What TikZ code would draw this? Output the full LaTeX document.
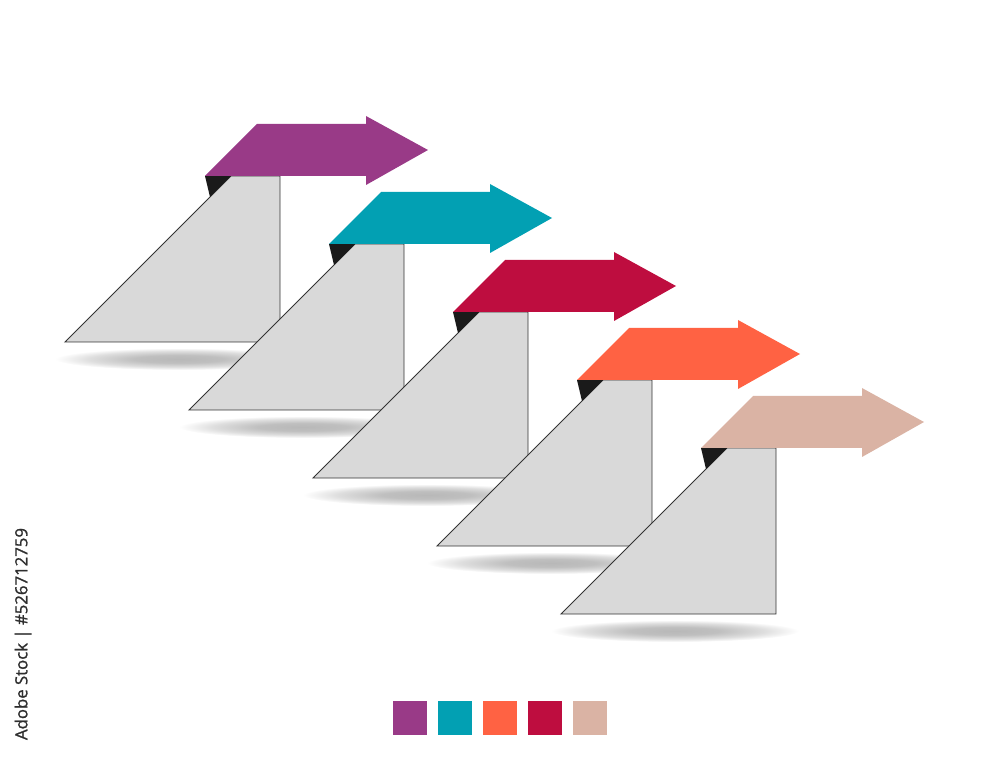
\documentclass[tikz,border=0pt]{standalone}
\usepackage{fontspec}
\newfontfamily\creditfont[FakeBold=1.2]{Open Sans}
\definecolor{stepPurple}{HTML}{993A87}
\definecolor{stepTeal}{HTML}{02A0B3}
\definecolor{stepCrimson}{HTML}{BE0D3F}
\definecolor{stepOrange}{HTML}{FF6243}
\definecolor{stepTan}{HTML}{DAB3A4}
\definecolor{stepGray}{HTML}{D9D9D9}
\definecolor{lineGray}{HTML}{333333}
\definecolor{foldBlack}{HTML}{1A1A1A}
\definecolor{creditGray}{HTML}{2E2E2E}
\pgfdeclareradialshading{shadowfade}{\pgfpoint{0bp}{0bp}}{color(0bp)=(black!28); color(9bp)=(black!25); color(18bp)=(black!13); color(25bp)=(white); color(50bp)=(white)}
\tikzset{
  stepface/.style={fill=stepGray, draw=lineGray, line width=0.75pt},
  stepfold/.style={fill=foldBlack},
  swatch/.style={minimum size=10.2mm, inner sep=0pt}
}
\begin{document}
\begin{tikzpicture}[x=0.3mm,y=-0.3mm]
\useasboundingbox (0,0) rectangle (1000,759);
% 段
\foreach \c [count=\i from 0] in {stepPurple,stepTeal,stepCrimson,stepOrange,stepTan} {
  \begin{scope}[shift={(124*\i,68*\i)}]
    % 影
    \shade[shading=shadowfade] (179,359) ellipse [x radius=124, y radius=11];
    % 三角形
    \draw[stepface] (65,342) -- (231,176) -- (280,176) -- (280,342) -- cycle;
    % 折り返し
    \fill[stepfold] (205,176) -- (231,176) -- (210,197) -- cycle;
    % 矢印
    \fill[\c] (205,176) -- (257,124) -- (366,124) -- (366,116) -- (428,150)
      -- (366,185) -- (366,176) -- cycle;
  \end{scope}
}
% 色見本
\node[swatch, fill=stepPurple] (sw1) at (410,717.5) {};
\node[swatch, fill=stepTeal] (sw2) at (455,717.5) {};
\node[swatch, fill=stepOrange] (sw3) at (500,717.5) {};
\node[swatch, fill=stepCrimson] (sw4) at (545,717.5) {};
\node[swatch, fill=stepTan] (sw5) at (590,717.5) {};
% クレジット
\node[rotate=90, text=creditGray, font=\creditfont\fontsize{14.3}{15}\selectfont] (credit) at (23,634) {Adobe Stock | \#526712759};
\end{tikzpicture}
\end{document}
